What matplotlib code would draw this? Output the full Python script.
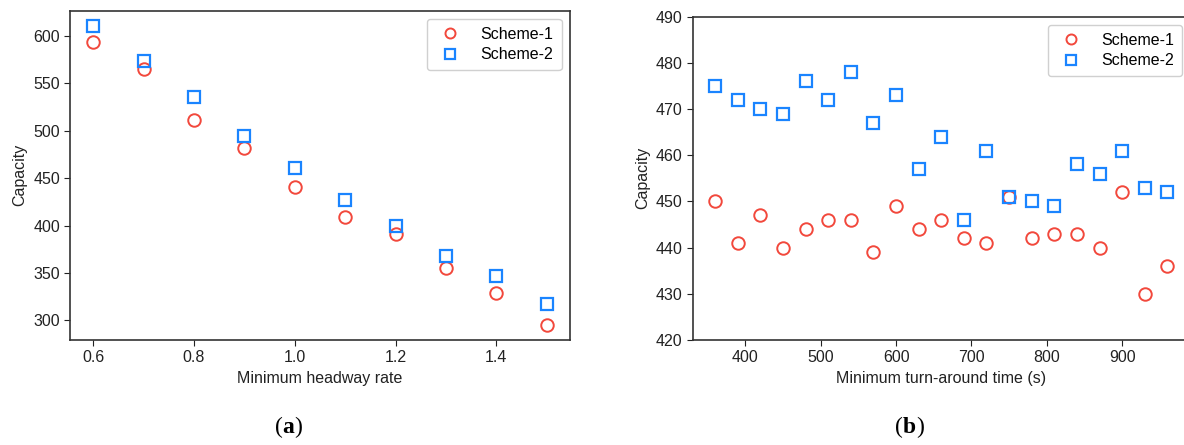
import numpy as np
import matplotlib
matplotlib.use("Agg")
import matplotlib.pyplot as plt

plt.rcParams['font.family'] = ['Liberation Sans', 'DejaVu Sans']

# (a) capacity vs minimum headway rate
headway = [0.6, 0.7, 0.8, 0.9, 1.0, 1.1, 1.2, 1.3, 1.4, 1.5]
cap_a_s1 = [594, 565, 511, 482, 441, 409, 391, 355, 329, 295]
cap_a_s2 = [611, 574, 536, 494, 461, 427, 400, 368, 347, 317]

# (b) capacity vs minimum turn-around time
turn = [360, 390, 420, 450, 480, 510, 540, 570, 600, 630, 660,
        690, 720, 750, 780, 810, 840, 870, 900, 930, 960]
cap_b_s1 = [450, 441, 447, 440, 444, 446, 446, 439, 449, 444, 446,
            442, 441, 451, 442, 443, 443, 440, 452, 430, 436]
cap_b_s2 = [475, 472, 470, 469, 476, 472, 478, 467, 473, 457, 464,
            446, 461, 451, 450, 449, 458, 456, 461, 453, 452]

red = "#f2483c"
blue = "#1a84ff"

fig = plt.figure(figsize=(11.84, 4.45), dpi=100)
ax1 = fig.add_axes([0.0595, 0.236, 0.4215, 0.740])
ax2 = fig.add_axes([0.585, 0.236, 0.420, 0.7265])


def style(ax, xs, s1, s2, xlabel):
    ax.plot(xs, s1, "o", ms=9, mfc="none", mec=red, mew=1.4, label="Scheme-1")
    ax.plot(xs, s2, "s", ms=9, mfc="none", mec=blue, mew=1.6, label="Scheme-2")
    ax.set_xlabel(xlabel, fontsize=11.5, color="#222222", labelpad=4)
    ax.set_ylabel("Capacity", fontsize=11.5, color="#222222", labelpad=4)
    ax.tick_params(labelsize=11.5, colors="#222222", length=4)
    for s in ax.spines.values():
        s.set_color("#333333")
        s.set_linewidth(1.2)
    leg = ax.legend(loc="upper right", fontsize=11.5, handlelength=1.9,
                    handletextpad=0.95, borderpad=0.5, labelspacing=0.35,
                    markerscale=0.8, framealpha=1)
    leg.get_frame().set_edgecolor("#d0d0d0")


style(ax1, headway, cap_a_s1, cap_a_s2, "Minimum headway rate")
style(ax2, turn, cap_b_s1, cap_b_s2, "Minimum turn-around time (s)")
ax2.set_ylim(420, 490)
ax2.set_xlim(330, 990)

# sub-figure captions: regular parentheses, bold letter
lab = dict(fontsize=17, family="Liberation Serif", va="baseline")
fig.text(0.2385, 0.028, "(", ha="right", **lab)
fig.text(0.2385, 0.028, "a", ha="left", weight="bold", **lab)
fig.text(0.2485, 0.028, ")", ha="left", **lab)
fig.text(0.7627, 0.028, "(", ha="right", **lab)
fig.text(0.7627, 0.028, "b", ha="left", weight="bold", **lab)
fig.text(0.7738, 0.028, ")", ha="left", **lab)

fig.savefig("out.png", dpi=100)
